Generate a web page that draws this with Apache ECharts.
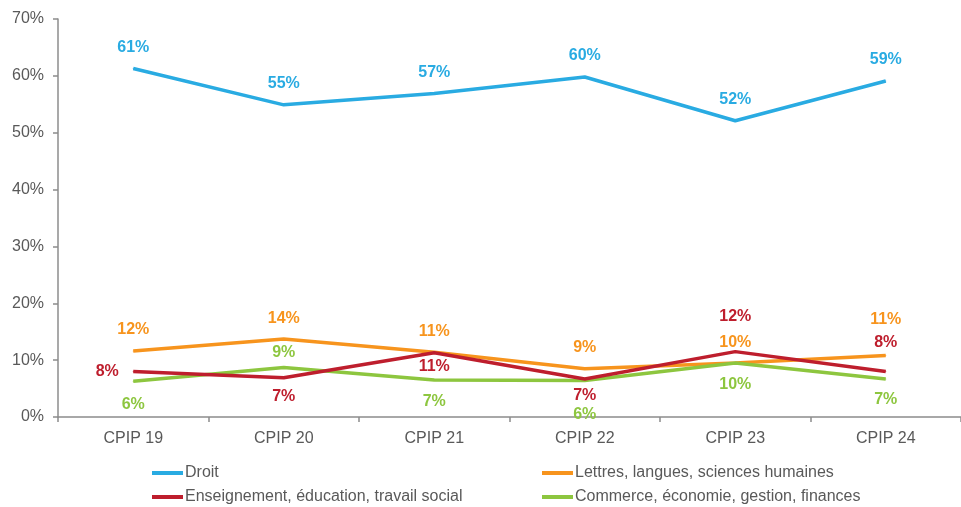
<!DOCTYPE html>
<html>
<head>
<meta charset="utf-8">
<script src="https://cdn.jsdelivr.net/npm/echarts@6/dist/echarts.min.js"></script>
<style>
  html, body { margin: 0; padding: 0; background: #fff; }
  #chart { width: 961px; height: 507px; }
</style>
</head>
<body>
<div id="chart"></div>
<script>
// données (en %)
const categories = ['CPIP 19', 'CPIP 20', 'CPIP 21', 'CPIP 22', 'CPIP 23', 'CPIP 24']
const droit = [61.3, 54.9, 56.9, 59.8, 52.1, 59.1]
const lettres = [11.6, 13.7, 11.4, 8.5, 9.5, 10.8]
const enseignement = [8.0, 6.9, 11.3, 6.7, 11.5, 8.0]
const commerce = [6.3, 8.7, 6.5, 6.4, 9.5, 6.7]
const seriesNames = [
  'Droit',
  'Lettres, langues, sciences humaines',
  'Enseignement, éducation, travail social',
  'Commerce, économie, gestion, finances'
]
const yTicks = [0, 10, 20, 30, 40, 50, 60, 70]

const colors = ['#29abe2', '#f7941d', '#be1e2d', '#8dc63f']
const FONT = "'Liberation Sans', Arial, sans-serif"

// décalage des étiquettes (px) par rapport au point
const labelOffsets = [
  [[0, -21], [0, -21], [0, -21], [0, -21], [0, -21], [0, -21]],
  [[0, -21], [0, -21], [0, -21], [0, -21], [0, -20], [0, -36]],
  [[-26, 0], [0, 19], [0, 14], [0, 17], [0, -35], [0, -29]],
  [[0, 23], [0, -15], [0, 22], [0, 34], [0, 22], [0, 21]]
]

const allData = [droit, lettres, enseignement, commerce]

const chart = echarts.init(document.getElementById('chart'))

const series = allData.map((vals, s) => ({
  name: seriesNames[s],
  type: 'line',
  data: vals.map((v, i) => ({
    value: v,
    label: { offset: labelOffsets[s][i] }
  })),
  symbol: 'circle',
  symbolSize: 1,
  showSymbol: true,
  color: colors[s],
  z: s === 3 ? 3 : s === 2 ? 4 : 2,
  lineStyle: { width: 3.5, color: colors[s] },
  itemStyle: { color: colors[s] },
  animation: false,
  label: {
    show: true,
    position: 'inside',
    color: colors[s],
    fontFamily: FONT,
    fontWeight: 'bold',
    fontSize: 16,
    formatter: p => Math.round(p.value) + '%'
  }
}))

const legendCommon = {
  orient: 'vertical',
  icon: 'rect',
  itemWidth: 31,
  itemHeight: 4,
  itemGap: 8,
  padding: 0,
  height: 44,
  textStyle: {
    color: '#595959',
    fontFamily: FONT,
    fontSize: 16,
    lineHeight: 16,
    padding: [0, 0, 0, -3]
  }
}

chart.setOption({
  backgroundColor: '#fff',
  animation: false,
  grid: { left: 58, right: -9, top: 19, bottom: 90 },
  legend: [
    Object.assign({ left: 152, top: 465, data: [seriesNames[0], seriesNames[2]] }, legendCommon),
    Object.assign({ left: 542, top: 465, data: [seriesNames[1], seriesNames[3]] }, legendCommon)
  ],
  xAxis: {
    type: 'category',
    data: categories,
    boundaryGap: true,
    axisLine: { lineStyle: { color: '#8c8c8c', width: 1.5 } },
    axisTick: { show: true, length: 5, lineStyle: { color: '#8c8c8c', width: 1.5 } },
    axisLabel: { color: '#595959', fontFamily: FONT, fontSize: 16, margin: 14 }
  },
  yAxis: {
    type: 'value',
    min: yTicks[0],
    max: yTicks[yTicks.length - 1],
    interval: 10,
    splitLine: { show: false },
    axisLine: { show: true, lineStyle: { color: '#8c8c8c', width: 1.5 } },
    axisTick: { show: true, length: 5, lineStyle: { color: '#8c8c8c', width: 1.5 } },
    axisLabel: {
      color: '#595959',
      fontFamily: FONT,
      fontSize: 16,
      margin: 14,
      formatter: v => v + '%'
    }
  },
  series: series
})
</script>
</body>
</html>
